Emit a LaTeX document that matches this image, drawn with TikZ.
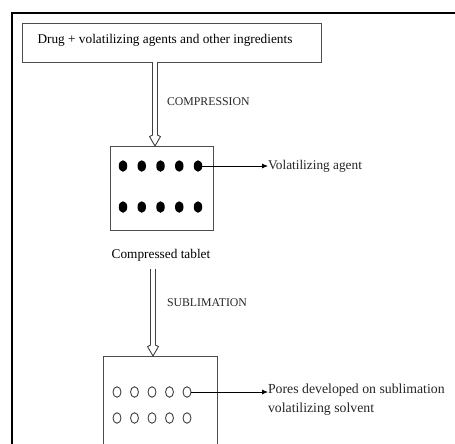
\documentclass[tikz,border=0pt]{standalone}
\usepackage{fontspec}
\setmainfont{Liberation Serif}
\usetikzlibrary{arrows.meta, positioning, shapes.geometric}

\begin{document}
\begin{tikzpicture}[x=1pt, y=-1pt, font=\fontsize{13.3}{15}\selectfont]
\tikzset{every node/.style={inner sep=0pt, outer sep=0pt}}

\tikzstyle{stagebox}=[draw=black!70, line width=0.8pt, rectangle]
\tikzstyle{label}=[anchor=west, text=black!85]
\tikzstyle{caps}=[font=\fontsize{11.8}{13}\selectfont]
\tikzstyle{dot}=[ellipse, fill=black, minimum width=8.5pt, minimum height=11.5pt]
\tikzstyle{pore}=[ellipse, draw=black!75, line width=0.9pt, minimum width=8pt, minimum height=10.5pt]
\tikzstyle{hollow}=[double=white, double distance=3.5pt, line width=0.9pt, draw=black!75, shorten >=11pt]
\tikzstyle{post}=[->, >={Latex[length=6pt, width=5pt]}, line width=0.8pt]
\tikzset{hollow head/.pic={
    \draw[black!75, line width=0.9pt, line join=round] (-2.2,-11) -- (-5.5,-9.5) -- (0,0) -- (5.5,-9.5) -- (2.2,-11);
}}

\clip (0,0) rectangle (455,444);
\fill[white] (0,0) rectangle (455,444);

% outer frame
\draw[line width=1.4pt] (12,444) -- (12,13) -- (455,13);

\node[stagebox, minimum width=299pt, minimum height=39pt] (mix) at (171.5,42.5) {};
\node (mix text) at (165,40) {Drug + volatilizing agents and other ingredients};

\node[stagebox, minimum width=103pt, minimum height=84pt] (tablet) at (161.5,188) {};
\node (tablet label) at (161,255) {Compressed tablet};

\node[stagebox, minimum width=114pt, minimum height=140pt] (pore box) at (160,426) {};

% volatilizing agent
\foreach \i in {1,...,5} {
    \node[dot] (dot a\i) at (123+18.75*\i-18.75,166) {};
    \node[dot] (dot b\i) at (123+18.75*\i-18.75,207) {};
}
\node[label] (agent) at (268,166) {Volatilizing agent};
\path[post] (dot a5) edge (agent);

% pores after sublimation
\foreach \i in {1,...,5} {
    \node[pore] (pore a\i) at (117+17.5*\i-17.5,392) {};
    \node[pore] (pore b\i) at (117+17.5*\i-17.5,418) {};
}
\node[label, anchor=north west, align=left, font=\fontsize{13.8}{18.5}\selectfont] (pores) at (268,384) {Pores developed on sublimation\\volatilizing solvent};
\draw[post] (pore a5.east) -- (pore a5.east -| pores.west);

% process steps
\coordinate (step one) at (155,0);
\coordinate (step two) at (153,0);
\draw[hollow] (mix.south -| step one) -- (tablet.north -| step one);
\pic at (tablet.north -| step one) {hollow head};
\node[label, caps] (compression) at (167,102) {COMPRESSION};
\draw[hollow] (tablet label.south -| step two) ++(0,8) -- (pore box.north -| step two);
\pic at (pore box.north -| step two) {hollow head};
\node[label, caps] (sublimation) at (167,303) {SUBLIMATION};

\end{tikzpicture}
\end{document}
